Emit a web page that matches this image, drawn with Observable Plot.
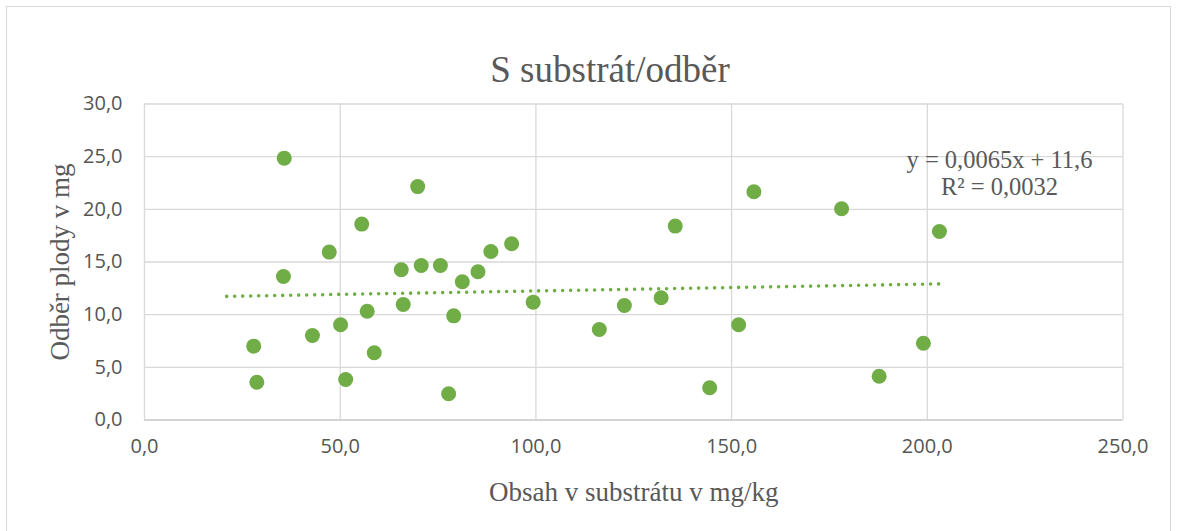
<!DOCTYPE html>
<html>
<head>
<meta charset="utf-8">
<script src="https://cdn.jsdelivr.net/npm/d3@7"></script>
<script src="https://cdn.jsdelivr.net/npm/@observablehq/plot@0.6"></script>
<style>
  html, body { margin: 0; padding: 0; background: #fff; overflow: hidden; }
  #wrap { position: relative; width: 1179px; height: 531px; }
  #border { position: absolute; left: 6px; top: 6px; width: 1165px; height: 600px;
            border: 1.5px solid #d9d9d9; box-sizing: border-box; pointer-events: none; }
  #chart { position: absolute; left: 0; top: 0; }
</style>
</head>
<body>
<div id="wrap">
  <div id="border"></div>
  <div id="chart"></div>
</div>
<script>
// ---- data ----
const substrate = [27.9, 28.7, 35.5, 35.7, 42.9, 47.2, 50.1, 51.4, 55.5, 56.9, 58.7,
                   65.6, 66.1, 69.8, 70.7, 75.6, 77.7, 79.0, 81.2, 85.2, 88.5, 93.8,
                   99.3, 116.2, 122.6, 132.0, 135.6, 144.4, 151.8, 155.7, 178.1, 187.7,
                   199.0, 203.1];
const uptake    = [7.01, 3.59, 13.63, 24.86, 8.02, 15.94, 9.04, 3.85, 18.6, 10.33, 6.38,
                   14.26, 10.97, 22.16, 14.67, 14.67, 2.49, 9.89, 13.12, 14.07, 16.0, 16.73,
                   11.19, 8.59, 10.87, 11.6, 18.41, 3.06, 9.04, 21.67, 20.05, 4.16,
                   7.29, 17.9];
const trendSlope = 0.0065;
const trendIntercept = 11.6;
const trendRange = [21, 203];
const xTicks = [0, 50, 100, 150, 200, 250];
const yTicks = [0, 5, 10, 15, 20, 25, 30];
const titleText = "S substrát/odběr";
const xLabel = "Obsah v substrátu v mg/kg";
const yLabel = "Odběr plody v mg";
const equationText = "y = 0,0065x + 11,6\nR² = 0,0032";

// ---- build tables ----
const points = substrate.map((x, i) => ({x, y: uptake[i]}));
const trend = trendRange.map(x => ({x, y: trendSlope * x + trendIntercept}));
const fmt = d => d.toFixed(1).replace(".", ",");

const green = "#70AD47";
const grey = "#595959";
const serif = "'Liberation Serif', 'Times New Roman', serif";
const sans = "'Open Sans', 'Noto Sans', sans-serif";

const chart = Plot.plot({
  width: 1179,
  height: 531,
  marginLeft: 144,
  marginRight: 56.5,
  marginTop: 103.5,
  marginBottom: 111.5,
  style: {background: "transparent", fontFamily: sans, overflow: "visible"},
  x: {domain: [0, 250]},
  y: {domain: [0, 30]},
  marks: [
    Plot.gridX(xTicks, {stroke: "#d9d9d9", strokeOpacity: 1, strokeWidth: 1.3}),
    Plot.gridY(yTicks, {stroke: "#d9d9d9", strokeOpacity: 1, strokeWidth: 1.3}),
    Plot.ruleY([0], {stroke: "#cfcfcf", strokeWidth: 1.5}),
    Plot.axisX({ticks: xTicks, tickFormat: fmt, tickSize: 0, tickPadding: 19,
                fontSize: 20, fill: "#555", label: null, fontFamily: sans}),
    Plot.axisY({ticks: yTicks, tickFormat: fmt, tickSize: 0, tickPadding: 22,
                fontSize: 20, fill: "#555", label: null, fontFamily: sans}),
    Plot.line(trend, {x: "x", y: "y", stroke: green, strokeWidth: 3.6,
                      strokeDasharray: "0 8", strokeLinecap: "round"}),
    Plot.dot(points, {x: "x", y: "y", r: 7.5, fill: green, stroke: "none"}),
    Plot.text([titleText], {frameAnchor: "top", dx: -23.75, dy: -22.5, lineAnchor: "bottom",
                            fontSize: 37, fontFamily: serif, fill: grey}),
    Plot.text([xLabel], {frameAnchor: "bottom", dx: 0, dy: 80.5, lineAnchor: "bottom",
                         fontSize: 27, fontFamily: serif, fill: grey}),
    Plot.text([yLabel], {frameAnchor: "left", dx: -75.5, rotate: -90, lineAnchor: "bottom",
                         textAnchor: "middle",
                         fontSize: 27, fontFamily: serif, fill: grey}),
    Plot.text([equationText], {frameAnchor: "top", dx: 365.75, dy: 90.5, lineAnchor: "bottom",
                               lineHeight: 1.1, fontSize: 24.5, fontFamily: serif, fill: grey})
  ]
});
document.getElementById("chart").appendChild(chart);
</script>
</body>
</html>
